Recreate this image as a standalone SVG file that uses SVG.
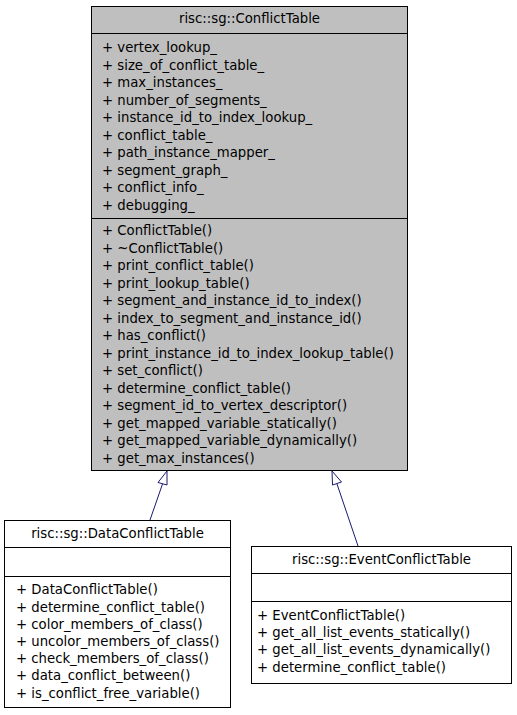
<svg xmlns="http://www.w3.org/2000/svg" width="517" height="715" viewBox="0 0 517 715">
<style>
.box{stroke:#000;stroke-width:1}
.sep{stroke:#000;stroke-width:1}
text{font-family:"DejaVu Sans",sans-serif;font-size:13.25px;fill:#000}
.t{text-anchor:middle}
.edge{stroke:#191970;stroke-width:1;fill:none}
.head{stroke:#191970;stroke-width:1;fill:#fff}
</style>
<rect width="517" height="715" fill="#fff"/>
<g id="ConflictTable">
<rect class="box" x="91.5" y="6.5" width="316" height="464" fill="#bfbfbf"/>
<line class="sep" x1="91.5" y1="33.5" x2="407.5" y2="33.5"/>
<line class="sep" x1="91.5" y1="218.5" x2="407.5" y2="218.5"/>
<text class="t" x="249.5" y="23">risc::sg::ConflictTable</text>
<text x="102" y="52.3">+ vertex_lookup_</text>
<text x="102" y="69.8">+ size_of_conflict_table_</text>
<text x="102" y="87.3">+ max_instances_</text>
<text x="102" y="104.8">+ number_of_segments_</text>
<text x="102" y="122.3">+ instance_id_to_index_lookup_</text>
<text x="102" y="139.8">+ conflict_table_</text>
<text x="102" y="157.3">+ path_instance_mapper_</text>
<text x="102" y="174.8">+ segment_graph_</text>
<text x="102" y="192.3">+ conflict_info_</text>
<text x="102" y="209.8">+ debugging_</text>
<text x="102" y="235">+ ConflictTable()</text>
<text x="102" y="252.5">+ ~ConflictTable()</text>
<text x="102" y="270">+ print_conflict_table()</text>
<text x="102" y="287.5">+ print_lookup_table()</text>
<text x="102" y="305">+ segment_and_instance_id_to_index()</text>
<text x="102" y="322.5">+ index_to_segment_and_instance_id()</text>
<text x="102" y="340">+ has_conflict()</text>
<text x="102" y="357.5">+ print_instance_id_to_index_lookup_table()</text>
<text x="102" y="375">+ set_conflict()</text>
<text x="102" y="392.5">+ determine_conflict_table()</text>
<text x="102" y="410">+ segment_id_to_vertex_descriptor()</text>
<text x="102" y="427.5">+ get_mapped_variable_statically()</text>
<text x="102" y="445">+ get_mapped_variable_dynamically()</text>
<text x="102" y="462.5">+ get_max_instances()</text>
</g>
<g id="DataConflictTable">
<rect class="box" x="4.5" y="520.5" width="226" height="187" fill="#fff"/>
<line class="sep" x1="4.5" y1="547.5" x2="230.5" y2="547.5"/>
<line class="sep" x1="4.5" y1="576.5" x2="230.5" y2="576.5"/>
<text class="t" x="117.5" y="537.7">risc::sg::DataConflictTable</text>
<text x="16" y="594.3">+ DataConflictTable()</text>
<text x="16" y="611.5">+ determine_conflict_table()</text>
<text x="16" y="628.7">+ color_members_of_class()</text>
<text x="16" y="645.9">+ uncolor_members_of_class()</text>
<text x="16" y="663.1">+ check_members_of_class()</text>
<text x="16" y="680.3">+ data_conflict_between()</text>
<text x="16" y="697.5">+ is_conflict_free_variable()</text>
</g>
<g id="EventConflictTable">
<rect class="box" x="251.5" y="546.5" width="260" height="137" fill="#fff"/>
<line class="sep" x1="251.5" y1="573.5" x2="511.5" y2="573.5"/>
<line class="sep" x1="251.5" y1="601.5" x2="511.5" y2="601.5"/>
<text class="t" x="381.5" y="564.3">risc::sg::EventConflictTable</text>
<text x="257" y="620">+ EventConflictTable()</text>
<text x="257" y="637.2">+ get_all_list_events_statically()</text>
<text x="257" y="654.4">+ get_all_list_events_dynamically()</text>
<text x="257" y="671.6">+ determine_conflict_table()</text>
</g>
<g id="connectors">
<path class="edge" d="M150,520 L162.5,484"/>
<polygon class="head" points="167,471 158,482.5 167,485"/>
<path class="edge" d="M358,546 L337,484"/>
<polygon class="head" points="332,471 332.5,485 341.5,482"/>
</g>
</svg>
